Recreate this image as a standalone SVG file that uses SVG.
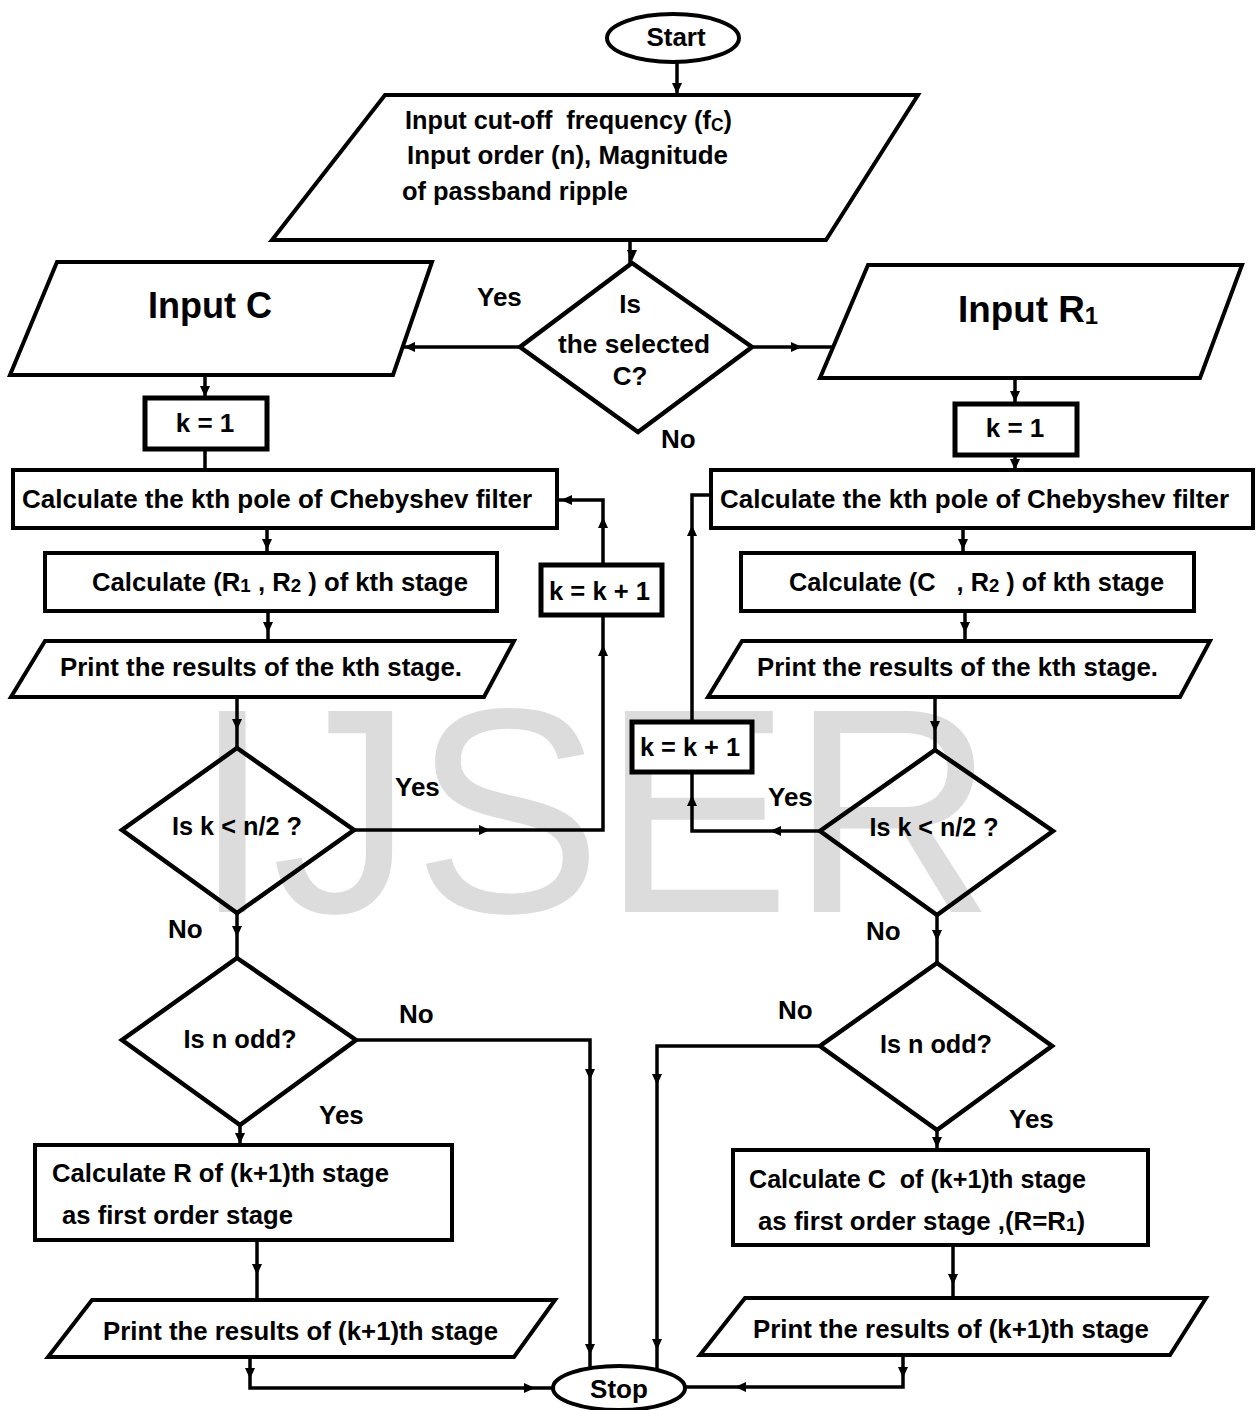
<svg xmlns="http://www.w3.org/2000/svg" xmlns:xlink="http://www.w3.org/1999/xlink" width="1257" height="1410" viewBox="0 0 1257 1410">
<style>
.sh{fill:#fff;stroke:#000;stroke-width:4;stroke-linejoin:miter}
.dm{fill:none;stroke:#000;stroke-width:4.5}
.kb{fill:#fff;stroke:#000;stroke-width:5}
.t{font-family:"Liberation Sans Narrow","Liberation Sans",Arial,sans-serif;font-weight:bold;font-size:26px;fill:#000}
.big{font-size:37px}
.c{text-anchor:middle}
.ln{fill:none;stroke:#000;stroke-width:3.5}
.wm{font-family:"Liberation Sans",Arial,sans-serif;font-size:292px;fill:#dcdcdc}
</style>
<defs>
<path id="ah" d="M-6,-5 L5,0 L-6,5 Z" fill="#000"/>
</defs>
<rect width="1257" height="1410" fill="#fff"/>
<text class="wm" x="193" y="912" textLength="802" lengthAdjust="spacingAndGlyphs">IJSER</text>

<g id="connectors">
<path class="ln" d="M677,62 V95"/>
<path class="ln" d="M630,240 V263"/>
<path class="ln" d="M520,347 H403"/>
<path class="ln" d="M752,347 H833"/>
<path class="ln" d="M205,375 V398"/>
<path class="ln" d="M205,449 V470"/>
<path class="ln" d="M267,528 V553"/>
<path class="ln" d="M268,611 V641"/>
<path class="ln" d="M237,697 V748"/>
<path class="ln" d="M354,830 H603 V500 H557"/>
<path class="ln" d="M237,913 V958"/>
<path class="ln" d="M356,1040 H590 V1368"/>
<path class="ln" d="M240,1125 V1145"/>
<path class="ln" d="M257,1240 V1300"/>
<path class="ln" d="M250,1357 V1388 H553"/>
<path class="ln" d="M1015,378 V404"/>
<path class="ln" d="M1015,455 V470"/>
<path class="ln" d="M963,528 V553"/>
<path class="ln" d="M965,611 V641"/>
<path class="ln" d="M935,697 V750"/>
<path class="ln" d="M820,831 H692 V495 H711"/>
<path class="ln" d="M937,915 V963"/>
<path class="ln" d="M820,1046 H657 V1370"/>
<path class="ln" d="M937,1130 V1150"/>
<path class="ln" d="M953,1245 V1298"/>
<path class="ln" d="M903,1355 V1387 H685"/>
<use xlink:href="#ah" transform="translate(677,89) rotate(90)"/>
<use xlink:href="#ah" transform="translate(632,256) rotate(90)"/>
<use xlink:href="#ah" transform="translate(409,347) rotate(180)"/>
<use xlink:href="#ah" transform="translate(797,347)"/>
<use xlink:href="#ah" transform="translate(205,392) rotate(90)"/>
<use xlink:href="#ah" transform="translate(267,545) rotate(90)"/>
<use xlink:href="#ah" transform="translate(268,628) rotate(90)"/>
<use xlink:href="#ah" transform="translate(237,725) rotate(90)"/>
<use xlink:href="#ah" transform="translate(485,830)"/>
<use xlink:href="#ah" transform="translate(603,650) rotate(-90)"/>
<use xlink:href="#ah" transform="translate(603,522) rotate(-90)"/>
<use xlink:href="#ah" transform="translate(566,500) rotate(180)"/>
<use xlink:href="#ah" transform="translate(237,932) rotate(90)"/>
<use xlink:href="#ah" transform="translate(590,1075) rotate(90)"/>
<use xlink:href="#ah" transform="translate(590,1350) rotate(90)"/>
<use xlink:href="#ah" transform="translate(240,1139) rotate(90)"/>
<use xlink:href="#ah" transform="translate(257,1270) rotate(90)"/>
<use xlink:href="#ah" transform="translate(250,1374) rotate(90)"/>
<use xlink:href="#ah" transform="translate(530,1388)"/>
<use xlink:href="#ah" transform="translate(1015,397) rotate(90)"/>
<use xlink:href="#ah" transform="translate(1015,465) rotate(90)"/>
<use xlink:href="#ah" transform="translate(963,545) rotate(90)"/>
<use xlink:href="#ah" transform="translate(965,628) rotate(90)"/>
<use xlink:href="#ah" transform="translate(935,727) rotate(90)"/>
<use xlink:href="#ah" transform="translate(775,831) rotate(180)"/>
<use xlink:href="#ah" transform="translate(692,800) rotate(-90)"/>
<use xlink:href="#ah" transform="translate(692,530) rotate(-90)"/>
<use xlink:href="#ah" transform="translate(937,936) rotate(90)"/>
<use xlink:href="#ah" transform="translate(657,1080) rotate(90)"/>
<use xlink:href="#ah" transform="translate(657,1345) rotate(90)"/>
<use xlink:href="#ah" transform="translate(937,1143) rotate(90)"/>
<use xlink:href="#ah" transform="translate(953,1280) rotate(90)"/>
<use xlink:href="#ah" transform="translate(903,1373) rotate(90)"/>
<use xlink:href="#ah" transform="translate(740,1387) rotate(180)"/>
</g>

<g id="start">
<ellipse class="sh" cx="673" cy="38" rx="66" ry="24"/>
<text class="t c" x="676" y="46">Start</text>
</g>
<g id="input-params">
<polygon class="sh" points="385,95 918,95 826,240 272,240"/>
<text class="t" x="405" y="129" textLength="327" lengthAdjust="spacingAndGlyphs">Input cut-off&#160; frequency (f<tspan font-size="18" dy="2">C</tspan><tspan dy="-2">)</tspan></text>
<text class="t" x="407" y="164" textLength="321" lengthAdjust="spacingAndGlyphs">Input order (n), Magnitude</text>
<text class="t" x="402" y="200" textLength="226" lengthAdjust="spacingAndGlyphs">of passband ripple</text>
</g>
<g id="decision-c">
<polygon class="dm" points="632,263 752,347 638,432 520,347"/>
<text class="t c" x="630" y="313">Is</text>
<text class="t c" x="634" y="353" textLength="152" lengthAdjust="spacingAndGlyphs">the selected</text>
<text class="t c" x="630" y="385">C?</text>
</g>
<g id="labels-top">
<text class="t" x="477" y="306">Yes</text>
<text class="t" x="661" y="448">No</text>
</g>
<g id="input-c">
<polygon class="sh" points="57,262 432,262 393,375 10,375"/>
<text class="t big" x="148" y="318" textLength="124" lengthAdjust="spacingAndGlyphs">Input C</text>
</g>
<g id="input-r1">
<polygon class="sh" points="868,265 1242,265 1200,378 820,378"/>
<text class="t big" x="958" y="322" textLength="140" lengthAdjust="spacingAndGlyphs">Input R<tspan font-size="24" dy="2">1</tspan></text>
</g>
<g id="k1-left">
<rect class="kb" x="145" y="398" width="122" height="51"/>
<text class="t c" x="205" y="432">k = 1</text>
</g>
<g id="k1-right">
<rect class="kb" x="955" y="404" width="122" height="51"/>
<text class="t c" x="1015" y="437">k = 1</text>
</g>
<g id="pole-left">
<rect class="sh" x="13" y="470" width="544" height="58"/>
<text class="t" x="22" y="508" textLength="510" lengthAdjust="spacingAndGlyphs">Calculate the kth pole of Chebyshev filter</text>
</g>
<g id="pole-right">
<rect class="sh" x="711" y="470" width="542" height="58"/>
<text class="t" x="720" y="508" textLength="509" lengthAdjust="spacingAndGlyphs">Calculate the kth pole of Chebyshev filter</text>
</g>
<g id="r1r2-left">
<rect class="sh" x="45" y="553" width="452" height="58"/>
<text class="t" x="92" y="591" textLength="376" lengthAdjust="spacingAndGlyphs">Calculate (R<tspan font-size="19" dy="1">1</tspan><tspan dy="-1"> , R</tspan><tspan font-size="19" dy="1">2</tspan><tspan dy="-1"> ) of kth stage</tspan></text>
</g>
<g id="cr2-right">
<rect class="sh" x="741" y="553" width="453" height="58"/>
<text class="t" x="789" y="591" textLength="375" lengthAdjust="spacingAndGlyphs">Calculate (C&#160;&#160; , R<tspan font-size="19" dy="1">2</tspan><tspan dy="-1"> ) of kth stage</tspan></text>
</g>
<g id="print-left">
<polygon class="sh" points="45,641 514,641 484,697 11,697"/>
<text class="t" x="60" y="676" textLength="402" lengthAdjust="spacingAndGlyphs">Print the results of the kth stage.</text>
</g>
<g id="print-right">
<polygon class="sh" points="742,641 1210,641 1180,697 708,697"/>
<text class="t" x="757" y="676" textLength="401" lengthAdjust="spacingAndGlyphs">Print the results of the kth stage.</text>
</g>
<g id="kinc-left">
<rect class="kb" x="541" y="565" width="121" height="50"/>
<text class="t" x="549" y="600" textLength="101" lengthAdjust="spacingAndGlyphs">k = k + 1</text>
</g>
<g id="kinc-right">
<rect class="kb" x="632" y="722" width="120" height="50"/>
<text class="t" x="640" y="756" textLength="100" lengthAdjust="spacingAndGlyphs">k = k + 1</text>
</g>
<g id="klt-left">
<polygon class="dm" points="237,748 354,830 237,913 122,830"/>
<text class="t c" x="237" y="835" textLength="130" lengthAdjust="spacingAndGlyphs">Is k &lt; n/2 ?</text>
</g>
<g id="klt-right">
<polygon class="dm" points="935,750 1053,831 937,915 820,831"/>
<text class="t c" x="934" y="836" textLength="129" lengthAdjust="spacingAndGlyphs">Is k &lt; n/2 ?</text>
</g>
<g id="odd-left">
<polygon class="dm" points="237,958 356,1040 240,1125 122,1040"/>
<text class="t c" x="240" y="1048" textLength="113" lengthAdjust="spacingAndGlyphs">Is n odd?</text>
</g>
<g id="odd-right">
<polygon class="dm" points="937,963 1052,1046 937,1130 820,1046"/>
<text class="t c" x="936" y="1053" textLength="112" lengthAdjust="spacingAndGlyphs">Is n odd?</text>
</g>
<g id="labels">
<text class="t" x="395" y="796">Yes</text>
<text class="t" x="768" y="806">Yes</text>
<text class="t" x="168" y="938">No</text>
<text class="t" x="866" y="940">No</text>
<text class="t" x="399" y="1023">No</text>
<text class="t" x="778" y="1019">No</text>
<text class="t" x="319" y="1124">Yes</text>
<text class="t" x="1009" y="1128">Yes</text>
</g>
<g id="calc-r-first">
<rect class="sh" x="35" y="1145" width="417" height="95"/>
<text class="t" x="52" y="1182" textLength="337" lengthAdjust="spacingAndGlyphs">Calculate R of (k+1)th stage</text>
<text class="t" x="62" y="1224" textLength="231" lengthAdjust="spacingAndGlyphs">as first order stage</text>
</g>
<g id="calc-c-first">
<rect class="sh" x="733" y="1150" width="415" height="95"/>
<text class="t" x="749" y="1188" textLength="337" lengthAdjust="spacingAndGlyphs">Calculate C&#160; of (k+1)th stage</text>
<text class="t" x="758" y="1230" textLength="327" lengthAdjust="spacingAndGlyphs">as first order stage ,(R=R<tspan font-size="19" dy="1">1</tspan><tspan dy="-1">)</tspan></text>
</g>
<g id="print-k1-left">
<polygon class="sh" points="92,1300 555,1300 514,1357 48,1357"/>
<text class="t" x="103" y="1340" textLength="395" lengthAdjust="spacingAndGlyphs">Print the results of (k+1)th stage</text>
</g>
<g id="print-k1-right">
<polygon class="sh" points="745,1298 1206,1298 1170,1355 700,1355"/>
<text class="t" x="753" y="1338" textLength="396" lengthAdjust="spacingAndGlyphs">Print the results of (k+1)th stage</text>
</g>
<g id="stop">
<ellipse class="sh" cx="619" cy="1388" rx="66" ry="22"/>
<text class="t c" x="619" y="1398">Stop</text>
</g>
</svg>
